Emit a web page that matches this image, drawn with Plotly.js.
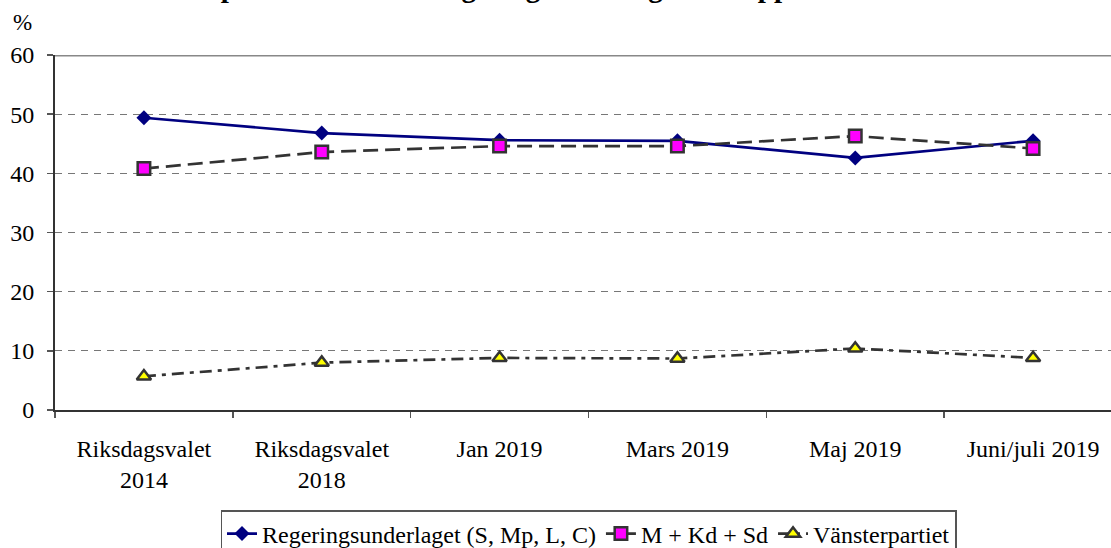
<!DOCTYPE html>
<html>
<head>
<meta charset="utf-8">
<script src="https://cdn.plot.ly/plotly-3.0.1.min.js"></script>
<style>
html,body{margin:0;padding:0;overflow:hidden;background:#fff;}
#chart{width:1122px;height:570px;}
</style>
</head>
<body>
<div id="chart"></div>
<script>
var categories = ["Riksdagsvalet<br>2014", "Riksdagsvalet<br>2018", "Jan 2019", "Mars 2019", "Maj 2019", "Juni/juli 2019"];
var regering = [49.4, 46.8, 45.6, 45.5, 42.6, 45.5];
var oppositionen = [40.8, 43.6, 44.6, 44.6, 46.3, 44.2];
var vansterpartiet = [5.7, 8.0, 8.8, 8.7, 10.4, 8.8];
var yTicks = [0, 10, 20, 30, 40, 50, 60];
var seriesNames = ["Regeringsunderlaget (S, Mp, L, C)", "M + Kd + Sd", "Vänsterpartiet"];
var titleText = "Opinionsstödet för regeringsunderlaget och oppositionen";

var font = "Liberation Serif, Times New Roman, serif";
var H = 570;

var traces = [
  {
    x: categories, y: regering, name: seriesNames[0], type: "scatter", mode: "lines+markers",
    line: {color: "#000080", width: 2.7},
    marker: {symbol: "diamond", size: 11.5, color: "#000080", line: {width: 0}}
  },
  {
    x: categories, y: oppositionen, name: seriesNames[1], type: "scatter", mode: "lines+markers",
    line: {color: "#333333", width: 2.7, dash: "15px,7px"},
    marker: {symbol: "square", size: 12.5, color: "#FF00FF", line: {color: "#333333", width: 2.5}}
  },
  {
    x: categories, y: vansterpartiet, name: seriesNames[2], type: "scatter", mode: "lines+markers",
    line: {color: "#333333", width: 2.7, dash: "12px,6px,4px,6px"},
    marker: {symbol: "triangle-up", size: 12.5, color: "#FFFF00", line: {color: "#333333", width: 2.5}}
  }
];

var layout = {
  width: 1122, height: H,
  margin: {l: 55, r: 0, t: 55, b: H - 410},
  paper_bgcolor: "#fff", plot_bgcolor: "#fff",
  font: {family: font, size: 24, color: "#000"},
  title: {
    text: "<b>" + titleText + "</b>",
    font: {family: font, size: 29, color: "#000"},
    xref: "container", x: 0.49, xanchor: "center",
    yref: "container", y: 1, yanchor: "bottom",
    pad: {b: 3}
  },
  showlegend: true,
  legend: {
    orientation: "h",
    x: 0.5, xanchor: "center",
    y: -0.2817, yanchor: "top",
    bordercolor: "#555", borderwidth: 1.5,
    font: {family: font, size: 24, color: "#000"},
    bgcolor: "#fff"
  },
  xaxis: {
    type: "category",
    range: [-0.5, 5.5],
    showgrid: false, zeroline: false,
    showline: true, linecolor: "#333", linewidth: 2,
    ticks: "outside", tickson: "boundaries", ticklen: 6, tickcolor: "#555", tickwidth: 1.5,
    tickfont: {family: font, size: 24, color: "#000"},
    ticklabelstandoff: 16,
    fixedrange: true
  },
  yaxis: {
    range: [0, 60], tickvals: yTicks, ticktext: yTicks.map(String),
    showgrid: true, gridcolor: "#777", gridwidth: 1, griddash: "7px,6px",
    zeroline: false,
    showline: true, linecolor: "#333", linewidth: 2,
    ticks: "outside", ticklen: 6, tickcolor: "#555", tickwidth: 1.5,
    tickfont: {family: font, size: 24, color: "#000"},
    ticklabelstandoff: 8,
    fixedrange: true
  },
  shapes: [
    {type: "line", xref: "paper", yref: "y", x0: 0, x1: 1, y0: 60, y1: 60,
     line: {color: "#888", width: 3}}
  ],
  annotations: [
    {text: "%", xref: "paper", yref: "paper", x: -0.0412, xanchor: "left",
     y: 1.0918, yanchor: "middle", showarrow: false,
     font: {family: font, size: 23, color: "#000"}}
  ]
};

Plotly.newPlot("chart", traces, layout, {displayModeBar: false, staticPlot: true});
</script>
</body>
</html>
